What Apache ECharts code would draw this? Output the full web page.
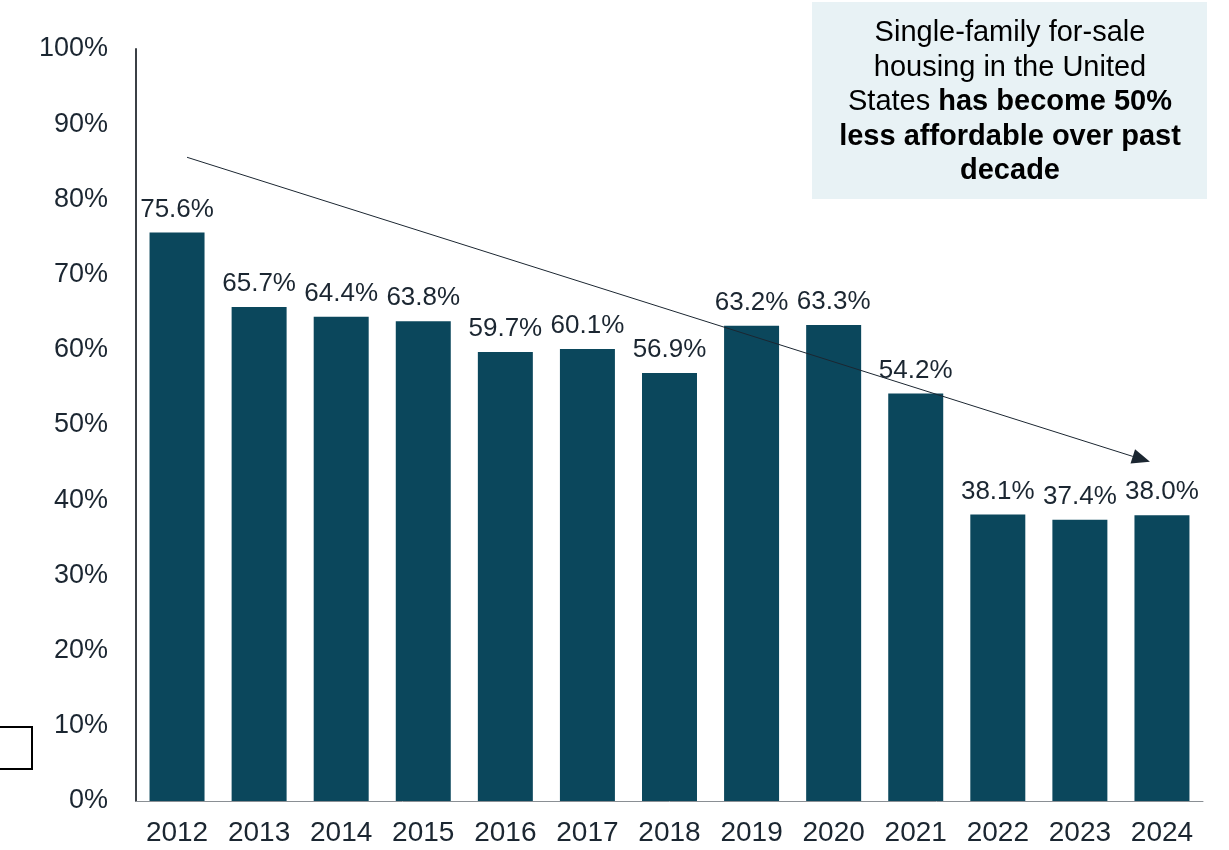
<!DOCTYPE html>
<html><head><meta charset="utf-8">
<script src="https://cdn.jsdelivr.net/npm/echarts@6/dist/echarts.min.js"></script>
<style>html,body{margin:0;padding:0;background:#fff}#c{width:1229px;height:850px}</style>
</head><body><div id="c"></div>
<script>
const years = ['2012','2013','2014','2015','2016','2017','2018','2019','2020','2021','2022','2023','2024'];
const shares = [75.6, 65.7, 64.4, 63.8, 59.7, 60.1, 56.9, 63.2, 63.3, 54.2, 38.1, 37.4, 38.0];
const yTicks = [0,10,20,30,40,50,60,70,80,90,100];
const arrowStart = 85.6, arrowEnd = 45.1;

const chart = echarts.init(document.getElementById('c'));
const font = "'Liberation Sans', Arial, sans-serif";
chart.setOption({
  animation: false,
  grid: {left: 136, right: 26, top: 49, bottom: 49},
  xAxis: {
    type: 'category', data: years,
    axisLine: {lineStyle: {color: '#8a8f94', width: 1}},
    axisTick: {show: false},
    axisLabel: {color: '#1b2631', fontSize: 28, fontFamily: font, margin: 18}
  },
  yAxis: {
    type: 'value', min: 0, max: 100, interval: 10,
    axisLine: {show: true, lineStyle: {color: '#3b4046', width: 2}},
    axisTick: {show: false},
    splitLine: {show: false},
    axisLabel: {color: '#1b2631', fontSize: 27, fontFamily: font, margin: 28, formatter: v => v + '%'}
  },
  series: [{
    type: 'bar', data: shares, barWidth: '67%',
    itemStyle: {color: '#0b475c'},
    label: {show: true, position: 'top', distance: 10, color: '#1b2631', fontSize: 26, fontFamily: font,
      formatter: p => p.value.toFixed(1) + '%'}
  }]
});

function drawExtras() {
  const a = chart.convertToPixel({seriesIndex: 0}, [0, arrowStart]);
  const b = chart.convertToPixel({seriesIndex: 0}, [years.length - 1, arrowEnd]);
  const x1 = a[0] + 10, y1 = a[1], x2 = b[0] - 12;
  const y2 = b[1];
  const ang = Math.atan2(y2 - y1, x2 - x1);
  const L = 18, W = 7.5;
  const tip = [x2, y2];
  const base = [x2 - L * Math.cos(ang), y2 - L * Math.sin(ang)];
  const p1 = [base[0] + W * Math.sin(ang), base[1] - W * Math.cos(ang)];
  const p2 = [base[0] - W * Math.sin(ang), base[1] + W * Math.cos(ang)];
  chart.setOption({
    graphic: [
      {type: 'line', shape: {x1: x1, y1: y1, x2: base[0], y2: base[1]}, style: {stroke: '#1b2631', lineWidth: 1}, z: 10},
      {type: 'polygon', shape: {points: [tip, p1, p2]}, style: {fill: '#1b2631'}, z: 10},
      {type: 'rect', shape: {x: 812, y: 2, width: 395, height: 197}, style: {fill: '#e8f2f5'}, z: 5},
      {type: 'text', x: 1010, y: 16, z: 6,
        style: {
          align: 'center', verticalAlign: 'top', lineHeight: 34.5,
          text: '{n|Single-family for-sale}\n{n|housing in the United}\n{n|States }{b|has become 50%}\n{b|less affordable over past}\n{b|decade}',
          rich: {
            n: {fontSize: 29, fontFamily: font, color: '#1b2631', lineHeight: 34.5},
            b: {fontSize: 29, fontFamily: font, fontWeight: 'bold', color: '#1b2631', lineHeight: 34.5}
          }
        }},
      {type: 'rect', shape: {x: -2, y: 727, width: 34, height: 42}, style: {fill: '#fff', stroke: '#000', lineWidth: 2}, z: 5}
    ]
  });
}
drawExtras();
</script></body></html>
